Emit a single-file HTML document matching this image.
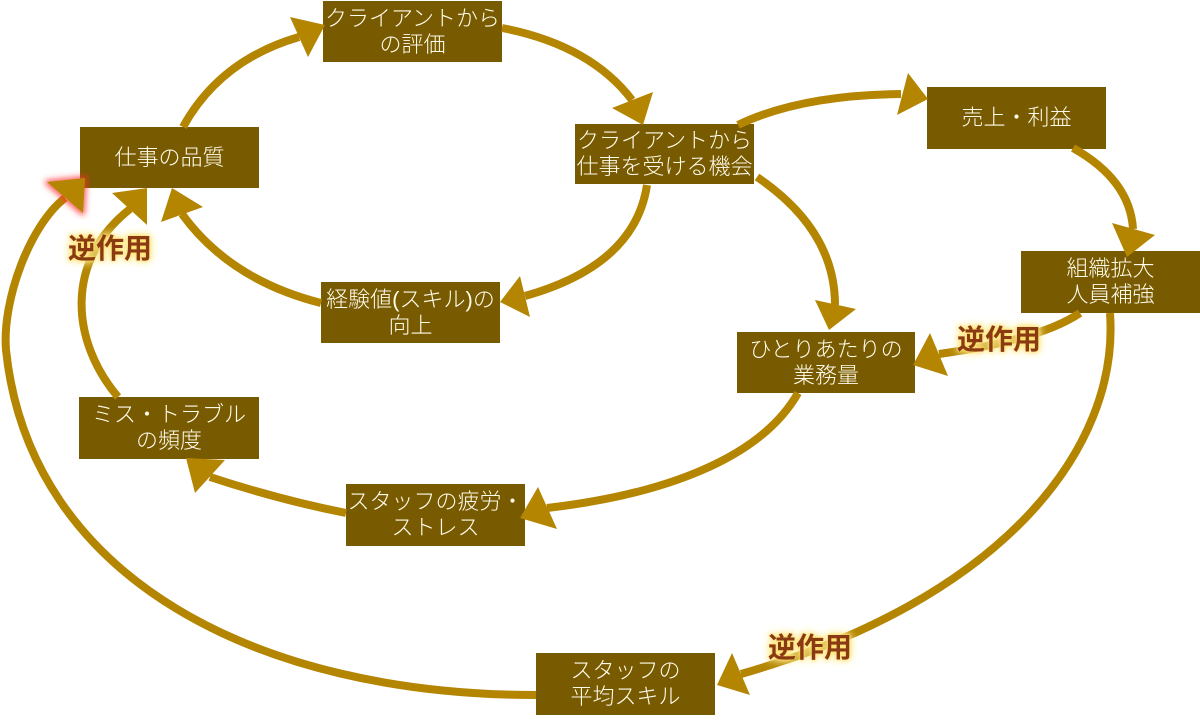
<!DOCTYPE html>
<html>
<head>
<meta charset="utf-8">
<style>
  html,body{margin:0;padding:0;background:#fff;}
  #wrap{position:relative;width:1200px;height:723px;overflow:hidden;background:#fff;}
  svg{position:absolute;left:0;top:0;}
  .box{position:absolute;background:#785A00;color:#FFFCEB;display:flex;flex-direction:column;align-items:center;justify-content:center;
       font-family:"Liberation Sans","Noto Sans CJK JP",sans-serif;font-weight:300;font-size:22px;line-height:26px;white-space:nowrap;text-align:center;}
  .lbl{position:absolute;font-family:"Liberation Sans","Noto Sans CJK JP",sans-serif;font-weight:bold;font-size:28px;line-height:30px;color:#8A3A12;white-space:nowrap;
       text-shadow:0 0 3px #FFE066,0 0 6px #FFE066,0 0 9px #FFEB99,0 0 12px #FFF3C0;}
</style>
</head>
<body>
<div id="wrap">
  <div class="box" style="left:80px;top:127px;width:179px;height:61px;"><div>仕事の品質</div></div>
  <div class="box" style="left:323px;top:1px;width:179px;height:61px;"><div>クライアントから</div><div>の評価</div></div>
  <div class="box" style="left:321px;top:282px;width:179px;height:61px;"><div>経験値(スキル)の</div><div>向上</div></div>
  <div class="box" style="left:575px;top:124px;width:179px;height:60px;"><div>クライアントから</div><div>仕事を受ける機会</div></div>
  <div class="box" style="left:927px;top:87px;width:179px;height:62px;"><div>売上・利益</div></div>
  <div class="box" style="left:1021px;top:251px;width:179px;height:62px;"><div>組織拡大</div><div>人員補強</div></div>
  <div class="box" style="left:737px;top:332px;width:178px;height:61px;"><div>ひとりあたりの</div><div>業務量</div></div>
  <div class="box" style="left:79px;top:397px;width:180px;height:62px;"><div>ミス・トラブル</div><div>の頻度</div></div>
  <div class="box" style="left:346px;top:484px;width:179px;height:62px;"><div>スタッフの疲労・</div><div>ストレス</div></div>
  <div class="box" style="left:536px;top:653px;width:179px;height:62px;"><div>スタッフの</div><div>平均スキル</div></div>

  <svg width="1200" height="723" viewBox="0 0 1200 723" xmlns="http://www.w3.org/2000/svg">
    <defs>
      <filter id="redglow" x="-50%" y="-50%" width="200%" height="200%">
        <feMorphology in="SourceAlpha" operator="dilate" radius="2" result="d"/>
        <feGaussianBlur in="d" stdDeviation="3" result="b"/>
        <feFlood flood-color="#FF3030" flood-opacity="0.75"/>
        <feComposite in2="b" operator="in" result="g"/>
        <feMerge><feMergeNode in="g"/><feMergeNode in="SourceGraphic"/></feMerge>
      </filter>
    </defs>
    <g fill="none" stroke="#B48500" stroke-width="8" stroke-linecap="butt">
      <path d="M183,127 Q220,60 299,37"/>
      <path d="M502,28 Q590,45 632,100"/>
      <path d="M647,185 Q635,265 525,296"/>
      <path d="M321,303 Q230,280 182,214"/>
      <path d="M738,125 Q800,95 901,94"/>
      <path d="M1073,148 Q1130,180 1133,229"/>
      <path d="M757,177 Q835,230 835,305"/>
      <path d="M1080,313 Q1040,340 939,354"/>
      <path d="M798,393 C760,460 660,495 547,508"/>
      <path d="M346,513 Q280,500 210,477"/>
      <path d="M118,397 C70,340 65,260 130,209"/>
      <path d="M1110,313 C1120,450 1000,600 741,674"/>
      <path d="M536,695 C260,695 30,580 6,350 C2,300 30,225 65,198"/>
    </g>
    <g fill="#B48500" stroke="none">
      <polygon points="290,17 308,57 325,25"/>
      <polygon points="612,108 653,92 643,125"/>
      <polygon points="520,276 530,317 500,302"/>
      <polygon points="161,222 203,207 172,188"/>
      <polygon points="908,73 897,115 928,99"/>
      <polygon points="1112,223 1155,235 1127,257"/>
      <polygon points="815,300 856,309 829,330"/>
      <polygon points="930,333 948,376 913,365"/>
      <polygon points="538,487 557,529 520,518"/>
      <polygon points="225,460 195,493 186,458"/>
      <polygon points="112,193 147,225 147,188"/>
      <polygon points="732,653 750,695 717,685"/>
      <polygon points="47,182 83,213 85,178" filter="url(#redglow)"/>
    </g>
  </svg>

  <div class="lbl" style="left:68px;top:234px;">逆作用</div>
  <div class="lbl" style="left:957px;top:325px;">逆作用</div>
  <div class="lbl" style="left:768px;top:633px;">逆作用</div>
</div>
</body>
</html>
